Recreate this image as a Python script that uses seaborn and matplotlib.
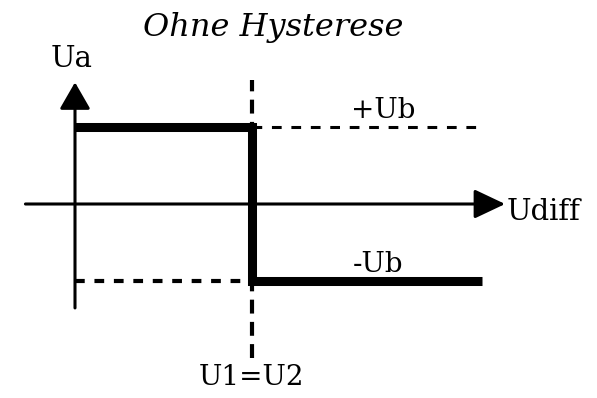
import seaborn as sns
import matplotlib.pyplot as plt
import pandas as pd

# comparator transfer curve without hysteresis (arbitrary units)
threshold = 1.0          # U1 = U2
ub = 1.0                 # saturation level +Ub / -Ub
x_end = 2.3
step_x = [0.0, threshold, threshold, x_end]
step_y = [ub, ub, -ub, -ub]

x_axis = [-0.28, 2.43]
y_axis = [-1.35, 1.58]
vline = [-2.0, 1.61]

labels = {"plus": "+Ub", "minus": "-Ub", "x": "Udiff", "y": "Ua", "thr": "U1=U2"}
title = "Ohne Hysterese"

sns.set_style("white")
plt.rcParams["lines.scale_dashes"] = False

fig = plt.figure(figsize=(5.97, 3.98), dpi=100)
ax = fig.add_axes([0, 0, 1, 1])
ax.set_xlim(-75 / 177, 522 / 177)
ax.set_ylim(-194 / 77, 204 / 77)
ax.axis("off")

# axes with arrow heads
ax.annotate("", xy=(x_axis[1], 0), xytext=(x_axis[0], 0),
            arrowprops=dict(arrowstyle="-|>,head_length=1.9,head_width=0.9",
                            lw=2.2, color="black", shrinkA=0, shrinkB=0))
ax.annotate("", xy=(0, y_axis[1]), xytext=(0, y_axis[0]),
            arrowprops=dict(arrowstyle="-|>,head_length=1.65,head_width=0.95",
                            lw=2.2, color="black", shrinkA=0, shrinkB=0))

# dashed guide lines
dash = (0, (7, 7))
ax.plot([threshold, x_end], [ub, ub], color="black", lw=2.2, ls=dash)
ax.plot([0, threshold], [-ub, -ub], color="black", lw=3, ls=dash)
ax.plot([threshold, threshold], vline, color="black", lw=3, ls=(0, (10, 6)))

# step curve
df = pd.DataFrame({"x": step_x, "y": step_y})
sns.lineplot(data=df, x="x", y="y", sort=False, estimator=None,
             color="black", lw=6.5, ax=ax, solid_joinstyle="miter",
             solid_capstyle="butt")

font = dict(family="DejaVu Serif", color="black")
ax.text(1.12, 2.29, title, ha="center", va="center", fontsize=23,
        style="italic", **font)
ax.text(-0.02, 1.88, labels["y"], ha="center", va="center", fontsize=21, **font)
ax.text(1.74, ub + 0.22, labels["plus"], ha="center", va="center", fontsize=20, **font)
ax.text(1.71, -ub + 0.21, labels["minus"], ha="center", va="center", fontsize=20, **font)
ax.text(2.44, -0.10, labels["x"], ha="left", va="center", fontsize=21, **font)
ax.text(threshold, -2.25, labels["thr"], ha="center", va="center", fontsize=20,
        **font)

plt.savefig("out.png", dpi=100)
